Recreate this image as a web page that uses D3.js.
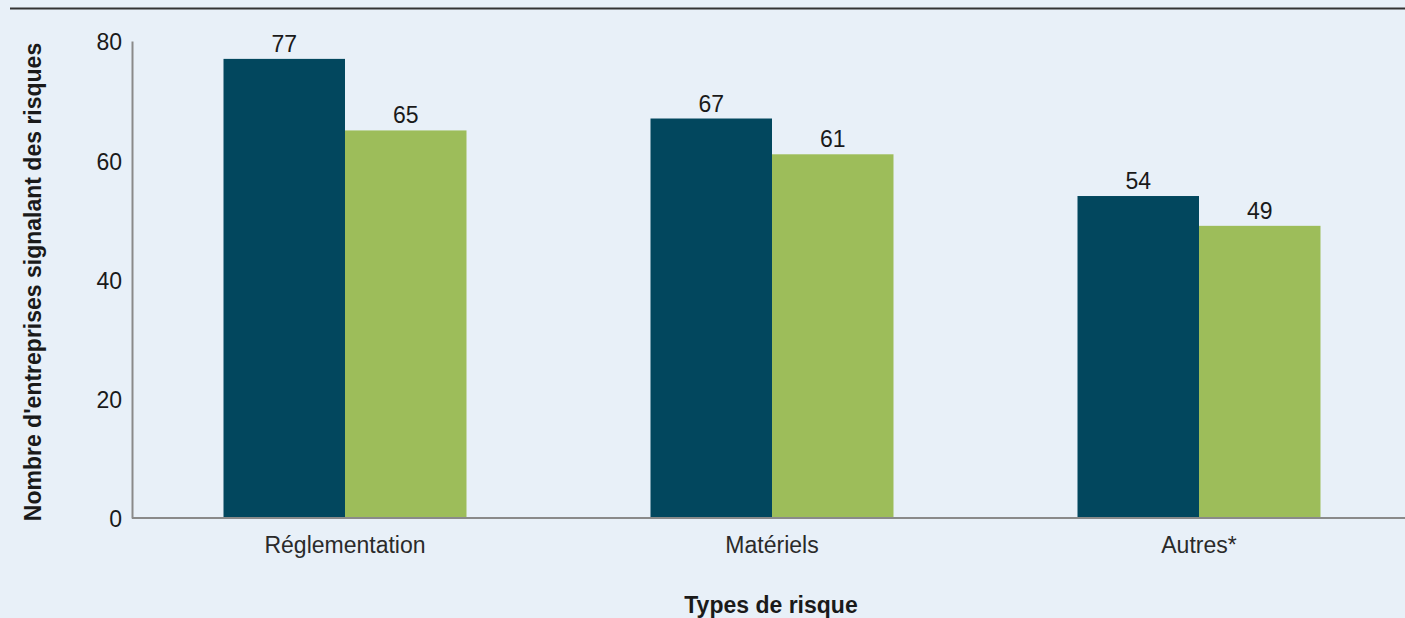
<!DOCTYPE html>
<html>
<head>
<meta charset="utf-8">
<script src="https://cdn.jsdelivr.net/npm/d3@7"></script>
<style>
  html, body { margin: 0; padding: 0; background: #e8f0f8; }
  svg { display: block; font-family: "Liberation Sans", Arial, Helvetica, sans-serif; }
</style>
</head>
<body>
<svg id="chart" width="1405" height="618"></svg>
<script>
// Types de risque et nombre d'entreprises qui les signalent
const categories = ["Réglementation", "Matériels", "Autres*"];
const seriesNames = ["Série 1", "Série 2"];
const seriesA = [77, 67, 54];
const seriesB = [65, 61, 49];
const yTicks = [0, 20, 40, 60, 80];
const colors = ["#02475e", "#9dbd5a"];

const W = 1405, H = 618;
const FS = 23;
const svg = d3.select("#chart");

svg.append("rect").attr("width", W).attr("height", H).attr("fill", "#e8f0f8");

// filet supérieur
svg.append("line")
  .attr("x1", 10).attr("x2", W).attr("y1", 8.5).attr("y2", 8.5)
  .attr("stroke", "#333").attr("stroke-width", 2);

const x0 = d3.scaleBand().domain(categories).range([131.5, 1412.5]).paddingInner(0).paddingOuter(0);
const groupW = 243;
const x1 = d3.scaleBand().domain(seriesNames).range([0, groupW]).padding(0);
const y = d3.scaleLinear().domain([0, 80]).range([518, 41]);

const rows = categories.map((c, i) => ({ cat: c, values: [seriesA[i], seriesB[i]] }));

const groups = svg.append("g").selectAll("g").data(rows).join("g")
  .attr("transform", d => `translate(${x0(d.cat) + (x0.bandwidth() - groupW) / 2},0)`);

groups.selectAll("rect").data(d => d.values.map((v, k) => ({ v, k })))
  .join("rect")
  .attr("x", d => x1(seriesNames[d.k]))
  .attr("width", x1.bandwidth())
  .attr("y", d => y(d.v))
  .attr("height", d => y(0) - y(d.v))
  .attr("fill", d => colors[d.k]);

groups.selectAll("text.val").data(d => d.values.map((v, k) => ({ v, k })))
  .join("text")
  .attr("class", "val")
  .attr("x", d => x1(seriesNames[d.k]) + x1.bandwidth() / 2)
  .attr("y", d => y(d.v) - 7)
  .attr("text-anchor", "middle")
  .attr("font-size", FS)
  .attr("fill", "#1a1a1a")
  .text(d => d.v);

// axe Y
const yAxis = d3.axisLeft(y).tickValues(yTicks).tickSize(0).tickPadding(10);
const gy = svg.append("g").attr("transform", "translate(132,0)").call(yAxis);
gy.attr("font-size", FS).attr("font-family", "'Liberation Sans', Arial, sans-serif");
gy.select(".domain").attr("stroke", "#8a8a8a").attr("stroke-width", 2);
gy.selectAll("text").attr("fill", "#1a1a1a").attr("dy", "0.38em");

// axe X
const xAxis = d3.axisBottom(x0).tickSize(0).tickPadding(19);
const gx = svg.append("g").attr("transform", "translate(0,518)").call(xAxis);
gx.attr("font-size", FS).attr("font-family", "'Liberation Sans', Arial, sans-serif");
gx.select(".domain").attr("stroke", "#8a8a8a").attr("stroke-width", 2)
  .attr("d", `M132,0H${W}`);
gx.selectAll("text").attr("fill", "#2a2a2a");

// titres des axes
svg.append("text")
  .attr("x", 771).attr("y", 613)
  .attr("text-anchor", "middle")
  .attr("font-size", FS).attr("font-weight", "bold").attr("fill", "#1a1a1a")
  .text("Types de risque");

svg.append("text")
  .attr("transform", "translate(41,282) rotate(-90)")
  .attr("text-anchor", "middle")
  .attr("font-size", FS).attr("font-weight", "bold").attr("fill", "#1a1a1a")
  .text("Nombre d'entreprises signalant des risques");
</script>
</body>
</html>
